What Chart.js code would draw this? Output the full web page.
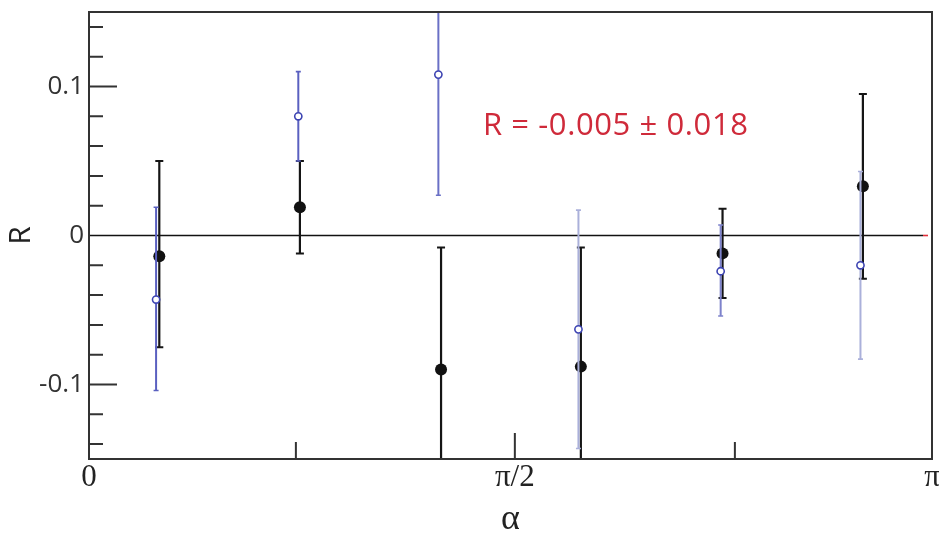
<!DOCTYPE html>
<html><head><meta charset="utf-8">
<script src="https://cdn.jsdelivr.net/npm/chart.js@4.4.1/dist/chart.umd.min.js"></script>
<style>html,body{margin:0;padding:0;background:#fff;}#wrap{width:939px;height:538px;}</style>
</head><body><div id="wrap"><canvas id="c" width="939" height="538"></canvas></div>
<script>
// ---- data ----
const alphaBlack = [0.262, 0.786, 1.312, 1.833, 2.361, 2.884];
const rBlack     = [-0.014, 0.019, -0.090, -0.088, -0.012, 0.033];
const errBlackLo = [0.061, 0.031, 0.082, 0.080, 0.030, 0.062];
const errBlackHi = [0.064, 0.031, 0.082, 0.080, 0.030, 0.062];

const alphaBlue  = [0.250, 0.780, 1.302, 1.824, 2.354, 2.875];
const rBlue      = [-0.043, 0.080, 0.108, -0.063, -0.024, -0.020];
const errBlueLo  = [0.061, 0.030, 0.081, 0.080, 0.030, 0.063];
const errBlueHi  = [0.062, 0.030, 0.081, 0.080, 0.031, 0.063];

const xTickValues = [0, 0.771, 1.587, 2.407, Math.PI];
const xTickLabels = ['0', '', 'π/2', '', 'π'];
const xMajorTicks = [1.587];
const yLabelValues = [-0.1, 0, 0.1];
const yLabelTexts  = ['-0.1', '0', '0.1'];
const yMinorTicks  = [-0.14, -0.12, -0.08, -0.06, -0.04, -0.02, 0.02, 0.04, 0.06, 0.08, 0.12, 0.14];
const yMajorTicks  = [-0.1, 0.1];
const resultText   = 'R = -0.005 ± 0.018';
const resultPos    = [1.468, 0.0676];

// ---- styles ----
const blueBarColors = ['#5a60c0', '#5a60c0', '#6a70c6', '#aab0da', '#7d82cb', '#aab0da'];

const errPlugin = {
  id: 'errs',
  beforeDatasetsDraw(chart) {
    const {ctx, chartArea: a, scales: {x, y}} = chart;
    ctx.save();
    const y0 = y.getPixelForValue(0);
    ctx.lineWidth = 1.6;
    ctx.strokeStyle = '#111';
    ctx.beginPath(); ctx.moveTo(a.left, y0); ctx.lineTo(a.right - 9, y0); ctx.stroke();
    ctx.strokeStyle = '#e0303a';
    ctx.beginPath(); ctx.moveTo(a.right - 9, y0); ctx.lineTo(a.right - 4, y0); ctx.stroke();
    ctx.fillStyle = '#cf2a3a';
    ctx.font = '31px "Open Sans"';
    ctx.letterSpacing = '0.6px';
    ctx.textBaseline = 'alphabetic';
    ctx.textAlign = 'left';
    ctx.fillText(resultText, x.getPixelForValue(resultPos[0]), y.getPixelForValue(resultPos[1]));
    ctx.restore();
  },
  beforeDatasetDraw(chart, args) {
    const {ctx, chartArea: a, scales: {x, y}} = chart;
    ctx.save();
    ctx.beginPath(); ctx.rect(a.left, a.top, a.right - a.left, a.bottom - a.top); ctx.clip();
    const isBlack = args.index === 1;
    const xs = isBlack ? alphaBlack : alphaBlue;
    const rs = isBlack ? rBlack : rBlue;
    const lo = isBlack ? errBlackLo : errBlueLo;
    const hi = isBlack ? errBlackHi : errBlueHi;
    for (let i = 0; i < xs.length; i++) {
      const px = x.getPixelForValue(xs[i]);
      const pTop = y.getPixelForValue(rs[i] + hi[i]);
      const pBot = y.getPixelForValue(rs[i] - lo[i]);
      ctx.strokeStyle = isBlack ? '#151515' : blueBarColors[i];
      ctx.lineWidth = isBlack ? 2.2 : 2;
      ctx.beginPath(); ctx.moveTo(px, pTop); ctx.lineTo(px, pBot); ctx.stroke();
      const cw = isBlack ? 4 : 2.5;
      ctx.lineWidth = isBlack ? 2 : 1.6;
      ctx.beginPath();
      ctx.moveTo(px - cw, pTop); ctx.lineTo(px + cw, pTop);
      ctx.moveTo(px - cw, pBot); ctx.lineTo(px + cw, pBot);
      ctx.stroke();
    }
    ctx.restore();
  },
  afterDraw(chart) {
    const {ctx, chartArea: a, scales: {x, y}} = chart;
    ctx.save();
    ctx.strokeStyle = '#333';
    ctx.lineWidth = 2;
    ctx.beginPath();
    yMinorTicks.forEach(v => { const py = y.getPixelForValue(v); ctx.moveTo(a.left, py); ctx.lineTo(a.left + 14, py); });
    yMajorTicks.forEach(v => { const py = y.getPixelForValue(v); ctx.moveTo(a.left, py); ctx.lineTo(a.left + 28, py); });
    xTickValues.forEach((v) => {
      if (v <= 0 || v >= Math.PI) return;
      const px = x.getPixelForValue(v);
      const len = xMajorTicks.includes(v) ? 26 : 17;
      ctx.moveTo(px, a.bottom); ctx.lineTo(px, a.bottom - len);
    });
    ctx.stroke();
    ctx.strokeRect(a.left, a.top, a.right - a.left, a.bottom - a.top);
    ctx.restore();
  }
};

new Chart(document.getElementById('c'), {
  type: 'scatter',
  data: {
    datasets: [
      {
        label: 'open',
        data: alphaBlue.map((v, i) => ({x: v, y: rBlue[i]})),
        pointRadius: 3.6, pointBorderWidth: 1.6,
        pointBackgroundColor: '#ffffff', pointBorderColor: '#3d44b2',
        showLine: false
      },
      {
        label: 'filled',
        data: alphaBlack.map((v, i) => ({x: v, y: rBlack[i]})),
        pointRadius: 6, pointBorderWidth: 0,
        pointBackgroundColor: '#111111', pointBorderColor: '#111111',
        showLine: false
      }
    ]
  },
  options: {
    responsive: false, animation: false, devicePixelRatio: 1,
    layout: {padding: {top: 12, right: 7, left: 0, bottom: 0}},
    plugins: {legend: {display: false}, tooltip: {enabled: false}},
    scales: {
      x: {
        type: 'linear', min: 0, max: Math.PI,
        afterBuildTicks: s => { s.ticks = xTickValues.map(v => ({value: v})); },
        afterFit: s => { s.height = 79; s.paddingLeft = 0; s.paddingRight = 0; },
        grid: {display: false, drawTicks: false},
        border: {display: false},
        ticks: {
          autoSkip: false, maxRotation: 0, minRotation: 0, padding: 0,
          font: {family: 'Liberation Serif', size: 31},
          color: '#222',
          callback: (v, i) => xTickLabels[i]
        },
        title: {display: true, text: 'α', color: '#222',
          font: {family: 'Liberation Serif', size: 36, lineHeight: 1.05}, padding: {top: 0, bottom: 0}}
      },
      y: {
        type: 'linear', min: -0.15, max: 0.15,
        afterBuildTicks: s => { s.ticks = yLabelValues.map(v => ({value: v})); },
        afterFit: s => { s.width = 89; s.paddingTop = 0; s.paddingBottom = 0; },
        grid: {display: false, drawTicks: false},
        border: {display: false},
        ticks: {
          padding: 5,
          font: {family: 'Open Sans', size: 26},
          color: '#333',
          callback: (v, i) => yLabelTexts[i]
        },
        title: {display: true, text: 'R', color: '#222',
          font: {family: 'Open Sans', size: 30, lineHeight: 1.2}, padding: {top: 3, bottom: 0}}
      }
    }
  },
  plugins: [errPlugin]
});
</script></body></html>
